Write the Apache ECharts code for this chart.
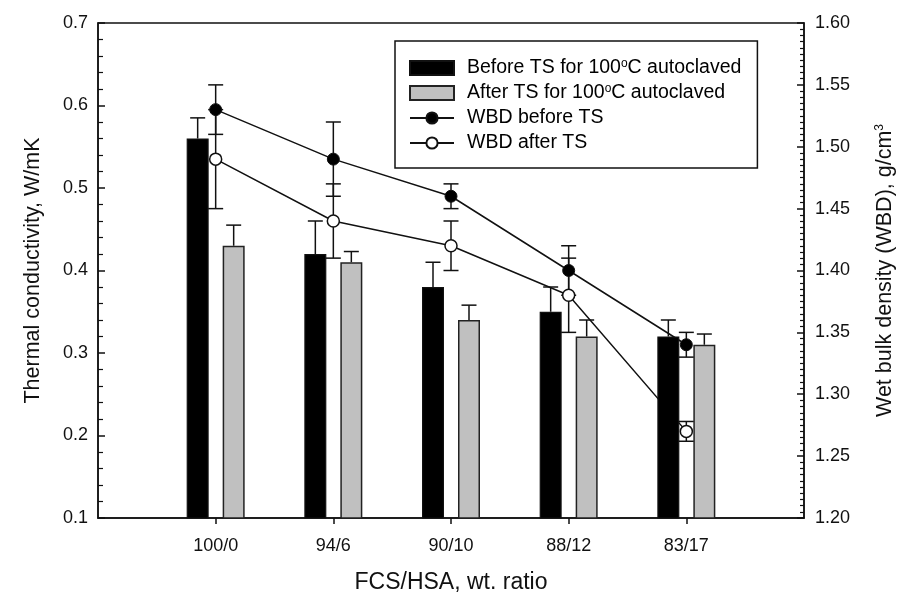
<!DOCTYPE html>
<html>
<head>
<meta charset="utf-8">
<script src="https://cdn.jsdelivr.net/npm/echarts@6/dist/echarts.min.js"></script>
<style>
html,body{margin:0;padding:0;background:#fff;}
#chart{width:899px;height:599px;}
</style>
</head>
<body>
<div id="chart"></div>
<script>
// ---- data ----
var categories = ['100/0', '94/6', '90/10', '88/12', '83/17'];
var tcBefore = [0.56, 0.42, 0.38, 0.35, 0.32];
var tcBeforeErr = [0.025, 0.04, 0.03, 0.03, 0.02];
var tcAfter = [0.43, 0.41, 0.34, 0.32, 0.31];
var tcAfterErr = [0.025, 0.013, 0.018, 0.02, 0.013];
var wbdBefore = [1.53, 1.49, 1.46, 1.40, 1.34];
var wbdBeforeErr = [0.02, 0.03, 0.01, 0.02, 0.01];
var wbdAfter = [1.49, 1.44, 1.42, 1.38, 1.27];
var wbdAfterErr = [0.04, 0.03, 0.02, 0.03, 0.008];
var leftTicks = [0.1, 0.7, 0.1];   // min, max, interval
var rightTicks = [1.2, 1.6, 0.05];

// ---- build ----
var xCats = [''].concat(categories).concat(['']);
var FONT = 'Liberation Sans, Arial, sans-serif';
var BAR_W = 22, BAR_GAP = 14;
var barOffset = (BAR_W + BAR_GAP) / 2;

function pairs(vals, errs) {
  return categories.map(function (c, i) { return errs ? [i + 1, vals[i], errs[i]] : [c, vals[i]]; });
}

function errRender(offset, upperOnly) {
  return function (params, api) {
    var idx = api.value(0), v = api.value(1), e = api.value(2);
    var c = api.coord([idx, v]);
    var hi = api.coord([idx, v + e]);
    var lo = api.coord([idx, v - e]);
    var x = c[0] + offset;
    var cap = 7.5;
    var st = { stroke: '#111', lineWidth: 1.5 };
    var kids = [];
    var y0 = upperOnly ? c[1] : lo[1];
    kids.push({ type: 'line', shape: { x1: x, y1: y0, x2: x, y2: hi[1] }, style: st });
    kids.push({ type: 'line', shape: { x1: x - cap, y1: hi[1], x2: x + cap, y2: hi[1] }, style: st });
    if (!upperOnly) kids.push({ type: 'line', shape: { x1: x - cap, y1: lo[1], x2: x + cap, y2: lo[1] }, style: st });
    return { type: 'group', children: kids };
  };
}

var supRich = { sup: { fontSize: 12, fontFamily: FONT, color: '#000', verticalAlign: 'top', lineHeight: 12 } };

var chart = echarts.init(document.getElementById('chart'), null, { renderer: 'canvas' });
chart.setOption({
  animation: false,
  backgroundColor: '#fff',
  textStyle: { fontFamily: FONT, color: '#000' },
  grid: { left: 98, right: 95, top: 23, bottom: 81, show: true, borderColor: '#111', borderWidth: 1.5,
    backgroundColor: 'transparent', containLabel: false, outerBoundsMode: 'none' },
  legend: {
    orient: 'vertical', left: 395, top: 41,
    padding: [17, 16, 15, 14],
    itemGap: 5, itemWidth: 44, itemHeight: 14,
    borderColor: '#111', borderWidth: 1.5, backgroundColor: '#fff',
    textStyle: { fontSize: 19.5, fontFamily: FONT, color: '#000', lineHeight: 20, padding: [0, 0, 0, 8], rich: supRich },
    formatter: function (n) { return n.replace('°', '{sup|o}'); },
    data: [
      { name: 'Before TS for 100°C autoclaved', icon: 'rect' },
      { name: 'After TS for 100°C autoclaved', icon: 'rect' },
      { name: 'WBD before TS' },
      { name: 'WBD after TS' }
    ]
  },
  xAxis: {
    type: 'category', data: xCats, boundaryGap: false,
    axisLine: { lineStyle: { color: '#111', width: 1.5 } },
    axisTick: { show: true, inside: false, length: 6, lineStyle: { color: '#111', width: 1.5 },
      interval: function (i, v) { return v !== ''; } },
    axisLabel: { fontSize: 18, color: '#111', margin: 19, fontFamily: FONT, interval: 0 },
    splitLine: { show: false },
    name: 'FCS/HSA, wt. ratio', nameLocation: 'middle', nameGap: 53,
    nameTextStyle: { fontSize: 23, fontFamily: FONT, color: '#111' }
  },
  yAxis: [{
    type: 'value', min: leftTicks[0], max: leftTicks[1], interval: leftTicks[2],
    axisLine: { show: true, lineStyle: { color: '#111', width: 1.5 } },
    axisTick: { show: true, inside: true, length: 7, lineStyle: { color: '#111', width: 1.5 } },
    minorTick: { show: true, splitNumber: 5, length: 5, lineStyle: { color: '#111', width: 1.2 } },
    axisLabel: { fontSize: 18, color: '#111', margin: 10, fontFamily: FONT, formatter: function (v) { return v.toFixed(1); } },
    splitLine: { show: false },
    name: 'Thermal conductivity, W/mK', nameLocation: 'middle', nameRotate: 90, nameGap: 54,
    nameTextStyle: { fontSize: 21.5, fontFamily: FONT, color: '#111' }
  }, {
    type: 'value', position: 'right', min: rightTicks[0], max: rightTicks[1], interval: rightTicks[2],
    axisLine: { show: true, lineStyle: { color: '#111', width: 1.5 } },
    axisTick: { show: true, inside: true, length: 7, lineStyle: { color: '#111', width: 1.5 } },
    minorTick: { show: true, splitNumber: 10, length: 4, lineStyle: { color: '#111', width: 1.2 } },
    axisLabel: { fontSize: 18, color: '#111', margin: 11, fontFamily: FONT, formatter: function (v) { return v.toFixed(2); } },
    splitLine: { show: false },
    name: '{a|Wet bulk density (WBD), g/cm}{sup|3}', nameLocation: 'middle', nameRotate: 90, nameGap: 70,
    nameTextStyle: { fontSize: 21.5, fontFamily: FONT, color: '#111',
      rich: { a: { fontSize: 21.5, fontFamily: FONT, color: '#111' }, sup: { fontSize: 12, fontFamily: FONT, color: '#111', verticalAlign: 'top', lineHeight: 12 } } }
  }],
  series: [
    {
      name: 'Before TS for 100°C autoclaved', type: 'bar', z: 3,
      barWidth: BAR_W, barGap: (BAR_GAP / BAR_W * 100) + '%',
      itemStyle: { color: '#000', borderColor: '#111', borderWidth: 1.2 },
      data: pairs(tcBefore)
    },
    {
      name: 'After TS for 100°C autoclaved', type: 'bar', z: 3,
      barWidth: BAR_W,
      itemStyle: { color: '#c0c0c0', borderColor: '#222', borderWidth: 1.5 },
      data: pairs(tcAfter)
    },
    {
      type: 'custom', z: 4, xAxisIndex: 0, yAxisIndex: 0, silent: true,
      renderItem: errRender(-barOffset, true), data: pairs(tcBefore, tcBeforeErr)
    },
    {
      type: 'custom', z: 4, xAxisIndex: 0, yAxisIndex: 0, silent: true,
      renderItem: errRender(barOffset, true), data: pairs(tcAfter, tcAfterErr)
    },
    {
      type: 'custom', z: 1, xAxisIndex: 0, yAxisIndex: 1, silent: true,
      renderItem: errRender(0, false), data: pairs(wbdBefore, wbdBeforeErr)
    },
    {
      type: 'custom', z: 1, xAxisIndex: 0, yAxisIndex: 1, silent: true,
      renderItem: errRender(0, false), data: pairs(wbdAfter, wbdAfterErr)
    },
    {
      name: 'WBD before TS', type: 'line', yAxisIndex: 1, z: 2,
      symbol: 'circle', symbolSize: 12, showAllSymbol: true,
      lineStyle: { color: '#111', width: 1.5 },
      itemStyle: { color: '#000', borderColor: '#111', borderWidth: 1 },
      data: pairs(wbdBefore)
    },
    {
      name: 'WBD after TS', type: 'line', yAxisIndex: 1, z: 2,
      symbol: 'circle', symbolSize: 12, showAllSymbol: true,
      lineStyle: { color: '#111', width: 1.5 },
      itemStyle: { color: '#fff', borderColor: '#111', borderWidth: 1.5 },
      data: pairs(wbdAfter)
    }
  ]
});
</script>
</body>
</html>
